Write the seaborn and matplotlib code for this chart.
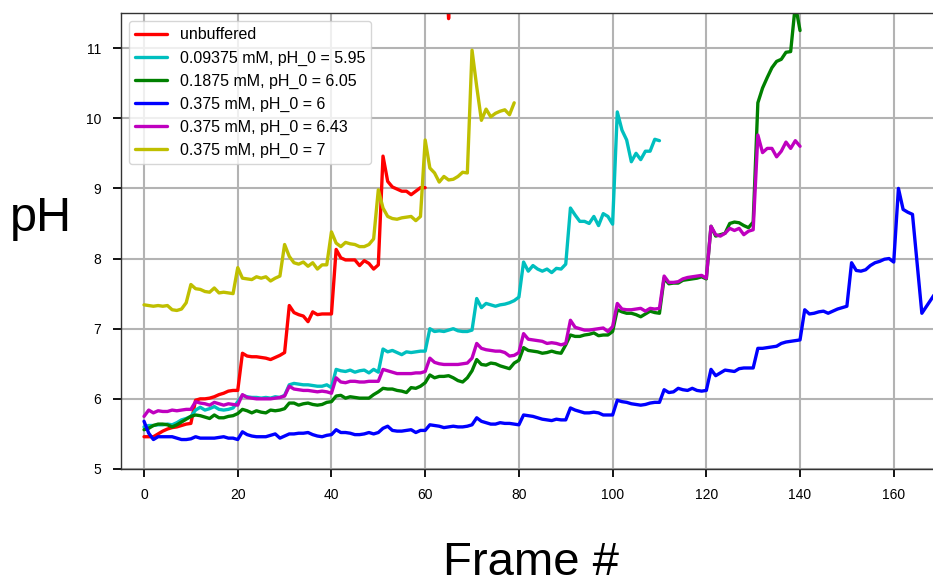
import numpy as np
import pandas as pd
import seaborn as sns
import matplotlib.pyplot as plt
from matplotlib.lines import Line2D

nan = np.nan

labels = ['unbuffered',
          '0.09375 mM, pH_0 = 5.95',
          '0.1875 mM, pH_0 = 6.05',
          '0.375 mM, pH_0 = 6',
          '0.375 mM, pH_0 = 6.43',
          '0.375 mM, pH_0 = 7']
colors = ['r', 'c', 'g', 'b', 'm', 'y']

# pH per frame (frame index = list index)
ph_unbuffered = [5.46, 5.46, 5.46, 5.50, 5.54, 5.57, 5.59, 5.60, 5.62, 5.64, 5.65,
                 5.98, 6.00, 6.00, 6.01, 6.03, 6.06, 6.08, 6.11, 6.12, 6.12,
                 6.65, 6.61, 6.60, 6.60, 6.59, 6.58, 6.56, 6.59, 6.62, 6.66,
                 7.33, 7.23, 7.20, 7.18, 7.10, 7.24, 7.20, 7.21, 7.21, 7.21,
                 8.13, 8.01, 7.98, 7.98, 7.98, 7.90, 7.97, 7.93, 7.85, 7.91,
                 9.46, 9.10, 9.02, 8.99, 8.96, 8.96, 8.91, 8.96, 9.01, 9.01,
                 nan, nan, nan, 12.6, 11.42, 12.6]

ph_009 = [5.60, 5.62, 5.62, 5.63, 5.63, 5.64, 5.63, 5.66, 5.70, 5.72, 5.75,
          5.84, 5.88, 5.84, 5.86, 5.89, 5.85, 5.84, 5.85, 5.87, 5.96,
          6.05, 6.03, 6.02, 6.02, 6.01, 6.02, 6.01, 6.03, 6.02, 6.05,
          6.20, 6.22, 6.21, 6.20, 6.20, 6.19, 6.18, 6.18, 6.20, 6.16,
          6.42, 6.40, 6.39, 6.41, 6.38, 6.40, 6.41, 6.37, 6.42, 6.38,
          6.71, 6.67, 6.69, 6.66, 6.63, 6.67, 6.66, 6.67, 6.68, 6.68,
          7.00, 6.96, 6.97, 6.96, 6.98, 7.00, 6.97, 6.96, 6.96, 6.98,
          7.43, 7.30, 7.36, 7.34, 7.32, 7.34, 7.35, 7.37, 7.40, 7.45,
          7.95, 7.82, 7.90, 7.85, 7.82, 7.85, 7.80, 7.86, 7.85, 7.92,
          8.72, 8.62, 8.53, 8.53, 8.50, 8.60, 8.47, 8.64, 8.60, 8.49,
          10.09, 9.83, 9.69, 9.38, 9.50, 9.41, 9.53, 9.53, 9.70, 9.68]

ph_019 = [5.56, 5.58, 5.62, 5.64, 5.64, 5.63, 5.60, 5.63, 5.67, 5.71, 5.75,
          5.77, 5.76, 5.74, 5.72, 5.77, 5.73, 5.73, 5.75, 5.76, 5.79,
          5.85, 5.83, 5.80, 5.83, 5.81, 5.80, 5.84, 5.83, 5.84, 5.86,
          5.94, 5.94, 5.91, 5.93, 5.94, 5.92, 5.91, 5.92, 5.95, 5.96,
          6.04, 6.05, 6.01, 6.03, 6.02, 6.01, 6.01, 6.01, 6.06, 6.10,
          6.15, 6.14, 6.14, 6.12, 6.11, 6.09, 6.16, 6.15, 6.18, 6.23,
          6.34, 6.30, 6.32, 6.32, 6.33, 6.30, 6.26, 6.24, 6.30, 6.40,
          6.56, 6.49, 6.48, 6.51, 6.50, 6.47, 6.45, 6.43, 6.51, 6.55,
          6.73, 6.69, 6.68, 6.67, 6.65, 6.66, 6.68, 6.66, 6.65, 6.77,
          6.91, 6.89, 6.89, 6.91, 6.92, 6.94, 6.90, 6.91, 6.91, 6.96,
          7.27, 7.24, 7.22, 7.22, 7.20, 7.17, 7.21, 7.25, 7.23, 7.22,
          7.72, 7.64, 7.65, 7.65, 7.69, 7.70, 7.71, 7.72, 7.74, 7.71,
          8.46, 8.32, 8.34, 8.36, 8.50, 8.52, 8.51, 8.47, 8.44, 8.52,
          10.22, 10.43, 10.58, 10.72, 10.81, 10.84, 10.94, 10.95, 11.62, 11.25]

ph_0375_6 = [5.68, 5.51, 5.42, 5.46, 5.46, 5.46, 5.46, 5.44, 5.42, 5.42, 5.43,
             5.46, 5.44, 5.44, 5.44, 5.44, 5.45, 5.46, 5.44, 5.44, 5.42,
             5.53, 5.49, 5.47, 5.46, 5.46, 5.46, 5.48, 5.50, 5.44, 5.47,
             5.50, 5.50, 5.51, 5.51, 5.52, 5.49, 5.47, 5.46, 5.48, 5.49,
             5.56, 5.52, 5.52, 5.51, 5.49, 5.49, 5.50, 5.52, 5.50, 5.52,
             5.58, 5.61, 5.55, 5.54, 5.54, 5.55, 5.56, 5.52, 5.55, 5.55,
             5.63, 5.62, 5.61, 5.59, 5.60, 5.61, 5.60, 5.60, 5.61, 5.63,
             5.73, 5.68, 5.66, 5.64, 5.64, 5.66, 5.65, 5.65, 5.64, 5.63,
             5.77, 5.76, 5.75, 5.73, 5.71, 5.70, 5.69, 5.71, 5.70, 5.70,
             5.87, 5.84, 5.82, 5.80, 5.80, 5.81, 5.80, 5.77, 5.77, 5.77,
             5.98, 5.96, 5.95, 5.93, 5.92, 5.91, 5.92, 5.94, 5.95, 5.95,
             6.13, 6.09, 6.10, 6.15, 6.13, 6.12, 6.15, 6.12, 6.11, 6.12,
             6.42, 6.33, 6.37, 6.41, 6.40, 6.39, 6.43, 6.44, 6.44, 6.44,
             6.72, 6.72, 6.73, 6.74, 6.75, 6.79, 6.81, 6.82, 6.83, 6.84,
             7.27, 7.21, 7.22, 7.24, 7.25, 7.22, 7.25, 7.28, 7.30, 7.32,
             7.94, 7.83, 7.82, 7.84, 7.90, 7.94, 7.96, 7.99, 8.00, 7.95,
             9.00, 8.70, 8.66, 8.63, 7.92, 7.22, 7.32, 7.42, 7.52]

ph_0375_643 = [5.75, 5.84, 5.80, 5.83, 5.82, 5.82, 5.84, 5.83, 5.84, 5.85, 5.85,
               5.96, 5.94, 5.93, 5.91, 5.95, 5.93, 5.91, 5.93, 5.92, 5.91,
               6.06, 6.02, 6.01, 6.00, 6.00, 6.00, 6.00, 6.01, 6.02, 6.04,
               6.18, 6.14, 6.13, 6.12, 6.12, 6.11, 6.10, 6.11, 6.10, 6.08,
               6.30, 6.24, 6.23, 6.25, 6.25, 6.24, 6.24, 6.25, 6.25, 6.25,
               6.42, 6.40, 6.38, 6.36, 6.36, 6.36, 6.36, 6.37, 6.37, 6.39,
               6.58, 6.52, 6.50, 6.49, 6.49, 6.49, 6.49, 6.50, 6.51, 6.58,
               6.79, 6.72, 6.70, 6.69, 6.68, 6.68, 6.66, 6.61, 6.62, 6.66,
               6.93, 6.85, 6.84, 6.83, 6.82, 6.79, 6.80, 6.79, 6.77, 6.79,
               7.12, 7.02, 7.00, 6.98, 6.98, 6.99, 7.00, 7.01, 6.96, 7.03,
               7.36, 7.28, 7.27, 7.27, 7.28, 7.29, 7.25, 7.29, 7.28, 7.29,
               7.75, 7.66, 7.66, 7.67, 7.71, 7.73, 7.74, 7.75, 7.76, 7.72,
               8.46, 8.34, 8.32, 8.36, 8.43, 8.40, 8.43, 8.34, 8.39, 8.41,
               9.76, 9.51, 9.57, 9.57, 9.45, 9.53, 9.66, 9.57, 9.68, 9.60]

ph_0375_7 = [7.34, 7.33, 7.32, 7.33, 7.32, 7.33, 7.27, 7.26, 7.28, 7.37,
             7.63, 7.57, 7.56, 7.53, 7.52, 7.58, 7.51, 7.52, 7.51, 7.50,
             7.87, 7.72, 7.71, 7.70, 7.74, 7.72, 7.74, 7.68, 7.72, 7.75,
             8.20, 8.03, 7.94, 7.92, 7.95, 7.89, 7.94, 7.85, 7.91, 7.91,
             8.38, 8.22, 8.17, 8.23, 8.21, 8.20, 8.17, 8.17, 8.20, 8.28,
             8.98, 8.72, 8.60, 8.57, 8.56, 8.58, 8.59, 8.60, 8.54, 8.60,
             9.69, 9.29, 9.22, 9.09, 9.17, 9.12, 9.13, 9.17, 9.23, 9.22,
             10.97, 10.45, 9.97, 10.13, 10.02, 10.07, 10.10, 10.12, 10.05, 10.22]

series = [ph_unbuffered, ph_009, ph_019, ph_0375_6, ph_0375_643, ph_0375_7]

# long-form table; a NaN starts a new segment so gaps stay gaps
rows = []
for lab, vals in zip(labels, series):
    seg = 0
    for frame, v in enumerate(vals):
        if np.isnan(v):
            seg += 1
            continue
        rows.append({'Frame': frame, 'pH': v, 'series': lab, 'seg': seg})
df = pd.DataFrame(rows)

sns.set_style('whitegrid', {'axes.edgecolor': '0.2', 'grid.color': '#b3b3b3',
                            'xtick.bottom': True, 'ytick.left': True,
                            'text.color': 'black', 'axes.labelcolor': 'black',
                            'xtick.color': 'black', 'ytick.color': 'black'})
plt.rcParams['font.family'] = ['Liberation Sans', 'DejaVu Sans']

fig = plt.figure(figsize=(9.33, 5.85), dpi=100)
ax = fig.add_axes([120.6 / 933, 116 / 585, 820 / 933, 456 / 585])

palette = dict(zip(labels, colors))
sns.lineplot(data=df, x='Frame', y='pH', hue='series', units='seg',
             estimator=None, hue_order=labels, palette=palette,
             linewidth=2.4, legend=False, ax=ax)

ax.set_xlim(-5, 170)
ax.set_ylim(5, 11.5)
ax.set_xticks(range(0, 170, 20))
ax.set_yticks(range(5, 12))
ax.grid(True, linewidth=1.5)
ax.tick_params(axis='both', labelsize=10, length=6, width=1.3, pad=8,
               color='black', labelcolor='black')
for s in ax.spines.values():
    s.set_linewidth(1.0)

ax.set_xlabel('Frame #', fontsize=34, color='black')
ax.xaxis.set_label_coords(0.5, -0.232)
ax.xaxis.label.set_va('baseline')
ax.set_ylabel('pH', fontsize=35, rotation=0, ha='center', va='center', color='black')
ax.yaxis.set_label_coords(-0.097, 0.55)

handles = [Line2D([], [], color=c, linewidth=2.4) for c in colors]
leg = ax.legend(handles, labels, loc='upper left', fontsize=11.5, frameon=True,
                fancybox=True, framealpha=0.8, edgecolor='0.8')
for t in leg.get_texts():
    t.set_color('black')

fig.savefig('out.png', dpi=100)
